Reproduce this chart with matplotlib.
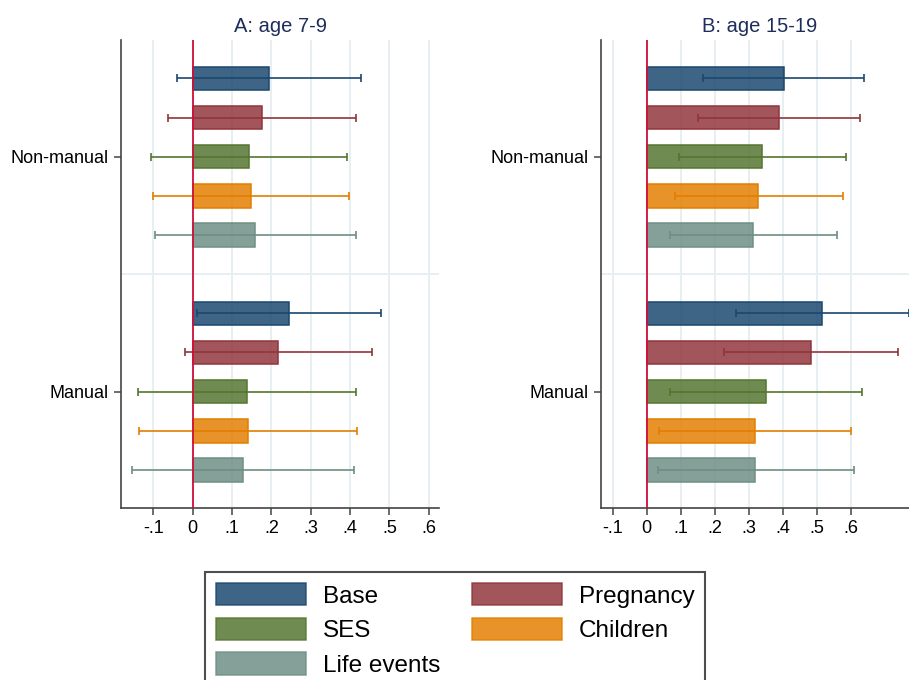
import matplotlib.pyplot as plt
import numpy as np

plt.rcParams['font.family'] = ['Liberation Sans', 'DejaVu Sans']

models = ['Base', 'Pregnancy', 'SES', 'Children', 'Life events']
groups = ['Non-manual', 'Manual']
colors = ['#1a476f', '#90353b', '#55752f', '#e37e00', '#6e8e84']

# panel A: age 7-9, estimates and 95% CI (non-manual then manual)
a_est = [[0.194, 0.175, 0.142, 0.147, 0.159],
         [0.245, 0.217, 0.138, 0.140, 0.128]]
a_lo = [[-0.040, -0.064, -0.106, -0.102, -0.096],
        [0.012, -0.019, -0.138, -0.137, -0.154]]
a_hi = [[0.428, 0.414, 0.393, 0.397, 0.416],
        [0.479, 0.455, 0.416, 0.418, 0.410]]

# panel B: age 15-19
b_est = [[0.402, 0.387, 0.338, 0.328, 0.313],
         [0.516, 0.481, 0.350, 0.318, 0.319]]
b_lo = [[0.166, 0.151, 0.094, 0.083, 0.068],
        [0.262, 0.226, 0.068, 0.035, 0.032]]
b_hi = [[0.639, 0.625, 0.585, 0.576, 0.560],
        [0.770, 0.737, 0.633, 0.601, 0.608]]

xticks = [-0.1, 0, 0.1, 0.2, 0.3, 0.4, 0.5, 0.6]
xticklabels = ['-.1', '0', '.1', '.2', '.3', '.4', '.5', '.6']

fig = plt.figure(figsize=(9.09, 6.80), dpi=100)
axA = fig.add_axes([0.1328, 0.2525, 0.3505, 0.6887])
axB = fig.add_axes([0.6608, 0.2525, 0.3505, 0.6887])


def panel(ax, est, lo, hi, title, xlim):
    for g in range(2):
        for m in range(5):
            y = g * 6 + m
            ax.barh(y, est[g][m], height=0.6, color=colors[m], alpha=0.84,
                    edgecolor='none', zorder=2)
            ax.barh(y, est[g][m], height=0.6, color='none',
                    edgecolor=colors[m], linewidth=1.1, zorder=2)
            ax.errorbar(est[g][m], y,
                        xerr=[[est[g][m] - lo[g][m]], [hi[g][m] - est[g][m]]],
                        fmt='none', ecolor=colors[m], elinewidth=1.2,
                        capsize=3, capthick=1.2, zorder=3)
    ax.axvline(0, color='#d0103a', linewidth=1.3, zorder=4)
    ax.axhline(5, color='#e6eef2', linewidth=1.3, zorder=1)
    ax.set_ylim(10.98, -0.98)
    ax.set_xlim(*xlim)
    ax.set_yticks([2, 8])
    ax.set_yticklabels(groups, fontsize=13)
    ax.set_xticks(xticks)
    ax.set_xticklabels(xticklabels, fontsize=13)
    ax.xaxis.grid(True, color='#e6eef2', linewidth=1.3, zorder=0)
    ax.set_axisbelow(True)
    for s in ['top', 'right']:
        ax.spines[s].set_visible(False)
    for s in ['left', 'bottom']:
        ax.spines[s].set_color('#444444')
        ax.spines[s].set_linewidth(1.2)
    ax.tick_params(colors='#444444', length=5, width=1.1, labelcolor='black')
    ax.set_title(title, fontsize=14.5, color='#1e2d5a', pad=6)


panel(axA, a_est, a_lo, a_hi, 'A: age 7-9', (-0.183, 0.627))
panel(axB, b_est, b_lo, b_hi, 'B: age 15-19', (-0.135, 0.80))

handles = [plt.Rectangle((0, 0), 1, 1, facecolor=c, alpha=0.84, edgecolor=c, linewidth=1.1)
           for c in colors]
order = [0, 2, 4, 1, 3]
leg = fig.legend([handles[i] for i in order], [models[i] for i in order],
                 ncol=2, loc='upper left', bbox_to_anchor=(205 / 909, 1 - 572 / 680),
                 fontsize=17.5, frameon=True, fancybox=False, edgecolor='#222222',
                 handlelength=3.7, handleheight=1.05, labelspacing=0.42,
                 columnspacing=1.3, borderpad=0.45, handletextpad=0.7,
                 borderaxespad=0)
leg.get_frame().set_linewidth(1.5)

fig.savefig('out.png', dpi=100)
